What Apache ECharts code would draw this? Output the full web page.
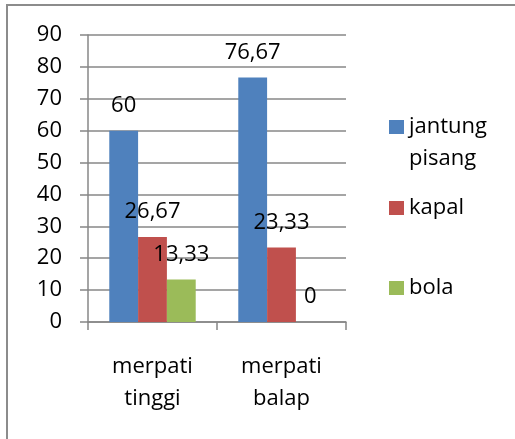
<!DOCTYPE html>
<html>
<head>
<meta charset="utf-8">
<script src="https://cdn.jsdelivr.net/npm/echarts@6/dist/echarts.min.js"></script>
<style>
    html, body { margin: 0; padding: 0; background: #fff; }
    #chart { width: 515px; height: 439px; }
</style>
</head>
<body>
<div id="chart"></div>
<script>
// data
var categories = ['merpati tinggi', 'merpati balap'];
var seriesNames = ['jantung pisang', 'kapal', 'bola'];
var jantungPisang = [60, 76.67];
var kapal = [26.67, 23.33];
var bola = [13.33, 0];
var yTicks = { min: 0, max: 90, interval: 10 };

var colors = ['#4F81BD', '#C0504D', '#9BBB59'];
var font = 'Open Sans';
var lineColor = '#878787';
var lineWidth = 1.5;

// angka pakai koma desimal
function fmtValue(p) {
    return String(p.value).replace('.', ',');
}

function makeSeries(name, data, color) {
    return {
        name: name,
        type: 'bar',
        data: data,
        barGap: 0,
        barCategoryGap: '33%',
        itemStyle: { color: color },
        label: {
            show: true,
            position: 'top',
            distance: 14,
            color: '#000',
            fontFamily: font,
            fontSize: 22,
            formatter: fmtValue
        }
    };
}

// legend satu item per komponen, supaya jaraknya bisa diatur
function makeLegend(name, top, fmt) {
    return {
        data: [name],
        left: 389,
        top: top,
        padding: 0,
        orient: 'vertical',
        icon: 'rect',
        itemWidth: 15,
        itemHeight: 14,
        selectedMode: false,
        formatter: fmt || '{name}',
        textStyle: {
            color: '#000',
            fontFamily: font,
            fontSize: 22,
            lineHeight: 32
        }
    };
}

var chart = echarts.init(document.getElementById('chart'));

chart.setOption({
    animation: false,
    grid: {
        left: 88,
        right: 169,
        top: 35,
        bottom: 117
    },
    legend: [
        // baris kosong di atas supaya kotak sejajar baris pertama
        makeLegend(seriesNames[0], 79, function (n) { return ' \n' + n.replace(' ', '\n'); }),
        makeLegend(seriesNames[1], 192),
        makeLegend(seriesNames[2], 272)
    ],
    xAxis: {
        type: 'category',
        data: categories,
        axisLine: { lineStyle: { color: lineColor, width: lineWidth } },
        axisTick: {
            show: true,
            length: 8,
            lineStyle: { color: lineColor, width: lineWidth }
        },
        axisLabel: {
            margin: 29,
            color: '#000',
            fontFamily: font,
            fontSize: 22,
            lineHeight: 32,
            formatter: function (v) { return v.replace(' ', '\n'); }
        }
    },
    yAxis: {
        type: 'value',
        min: yTicks.min,
        max: yTicks.max,
        interval: yTicks.interval,
        axisLine: { show: true, lineStyle: { color: lineColor, width: lineWidth } },
        axisTick: {
            show: true,
            inside: false,
            length: 8,
            lineStyle: { color: lineColor, width: lineWidth }
        },
        splitLine: { lineStyle: { color: lineColor, width: lineWidth } },
        axisLabel: {
            margin: 26,
            color: '#000',
            fontFamily: font,
            fontSize: 22
        }
    },
    series: [
        makeSeries(seriesNames[0], jantungPisang, colors[0]),
        makeSeries(seriesNames[1], kapal, colors[1]),
        makeSeries(seriesNames[2], bola, colors[2])
    ],
    graphic: [{
        type: 'rect',
        shape: { x: 7, y: 5, width: 620, height: 600 },
        style: { fill: 'none', stroke: '#8c8c8c', lineWidth: 2 },
        silent: true
    }]
});
</script>
</body>
</html>
